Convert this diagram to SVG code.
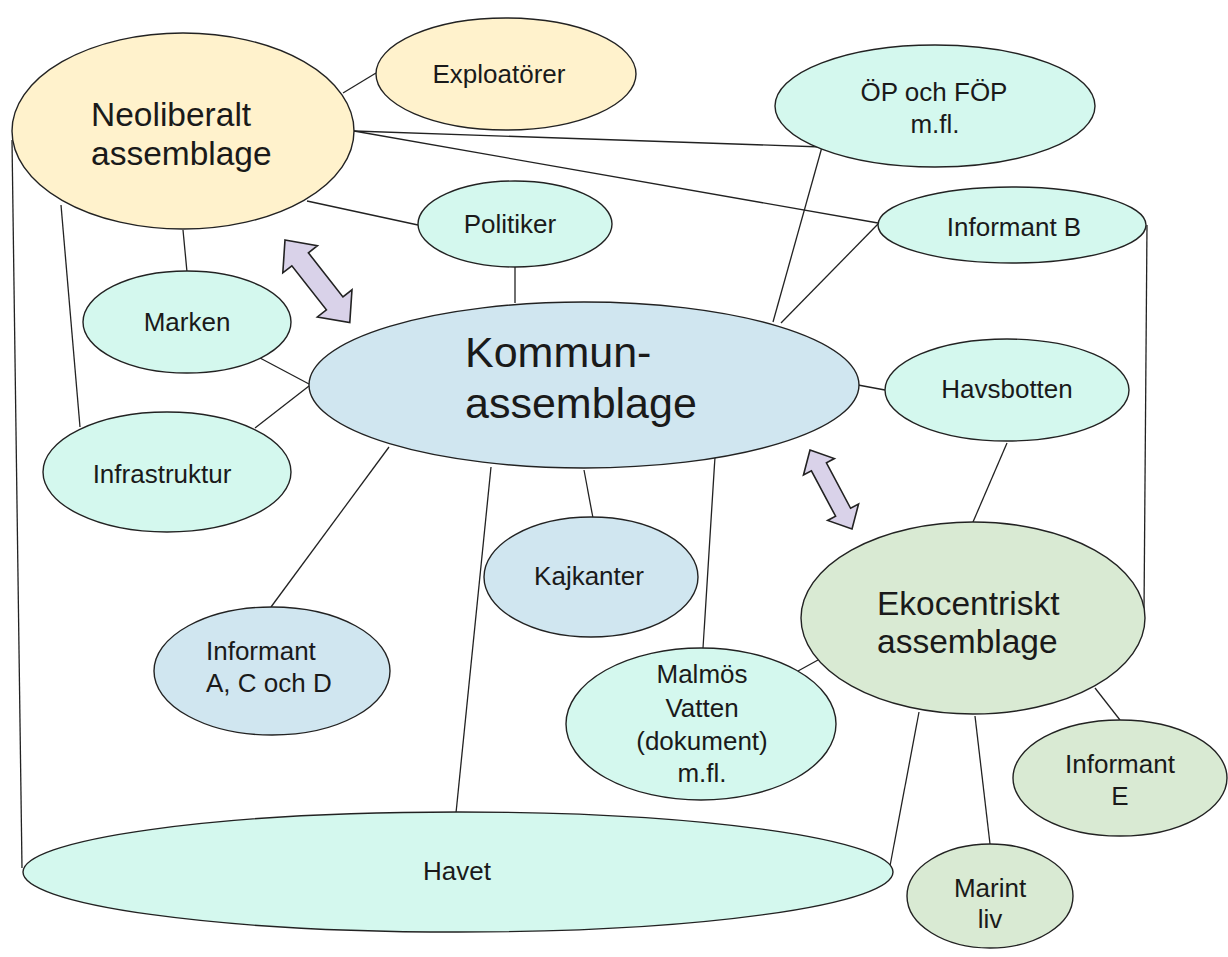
<svg xmlns="http://www.w3.org/2000/svg" width="1228" height="957" viewBox="0 0 1228 957">
<style>
  .n ellipse { stroke: #222; stroke-width: 1.4; }
  .yel { fill: #fff2cc; }
  .mint { fill: #d4f8ee; }
  .blue { fill: #d0e6f0; }
  .grn { fill: #d9ead3; }
  text { font-family: "Liberation Sans", Arial, sans-serif; fill: #1a1a1a; }
  .s { font-size: 26px; text-anchor: middle; }
  .sl { font-size: 26px; }
  .b { font-size: 33.5px; }
  .k { font-size: 43px; }
  #connectors line { stroke: #222; stroke-width: 1.3; }
  .arr { fill: #d9d2e9; stroke: #222; stroke-width: 1.6; stroke-linejoin: miter; }
</style>
<rect width="1228" height="957" fill="#ffffff"/>
<g id="connectors">
  <line x1="12" y1="140" x2="22" y2="868"/>
  <line x1="61" y1="205" x2="80" y2="427"/>
  <line x1="183" y1="230" x2="187" y2="272"/>
  <line x1="343" y1="93" x2="376" y2="73"/>
  <line x1="307" y1="201" x2="418" y2="225"/>
  <line x1="354" y1="131" x2="822" y2="147"/>
  <line x1="354" y1="131" x2="878" y2="223"/>
  <line x1="822" y1="147" x2="773" y2="322"/>
  <line x1="878" y1="224" x2="781" y2="323"/>
  <line x1="1147" y1="225" x2="1144" y2="612"/>
  <line x1="515" y1="267" x2="515" y2="303"/>
  <line x1="260" y1="358" x2="309" y2="384"/>
  <line x1="255" y1="428" x2="309" y2="386"/>
  <line x1="858" y1="385" x2="885" y2="390"/>
  <line x1="1007" y1="443" x2="973" y2="522"/>
  <line x1="389" y1="447" x2="271" y2="607"/>
  <line x1="491" y1="467" x2="456" y2="813"/>
  <line x1="584" y1="470" x2="593" y2="518"/>
  <line x1="715" y1="457" x2="703" y2="648"/>
  <line x1="798" y1="671" x2="818" y2="660"/>
  <line x1="919" y1="712" x2="890" y2="866"/>
  <line x1="975" y1="716" x2="990" y2="844"/>
  <line x1="1095" y1="688" x2="1120" y2="720"/>
</g>
<g id="arrows">
  <path class="arr" transform="translate(285,240) rotate(51.9)" d="M0,0 L24.5,-22 L24.5,-10.5 L80.5,-10.5 L80.5,-22 L105,0 L80.5,22 L80.5,10.5 L24.5,10.5 L24.5,22 Z"/>
  <path class="arr" transform="translate(810,450) rotate(62)" d="M0,0 L19,-17.5 L19,-8.5 L70.5,-8.5 L70.5,-17.5 L89.5,0 L70.5,17.5 L70.5,8.5 L19,8.5 L19,17.5 Z"/>
</g>
<g id="neoliberalt" class="n">
  <ellipse class="yel" cx="183" cy="131" rx="171" ry="98"/>
  <text class="b" x="91" y="126">Neoliberalt</text>
  <text class="b" x="91" y="165">assemblage</text>
</g>
<g id="exploatorer" class="n">
  <ellipse class="yel" cx="506" cy="74" rx="130" ry="56"/>
  <text class="s" x="499" y="83">Exploatörer</text>
</g>
<g id="op-fop" class="n">
  <ellipse class="mint" cx="935" cy="106" rx="160" ry="61"/>
  <text class="s" x="934" y="101">ÖP och FÖP</text>
  <text class="s" x="935" y="133">m.fl.</text>
</g>
<g id="informant-b" class="n">
  <ellipse class="mint" cx="1012" cy="225" rx="134" ry="38"/>
  <text class="s" x="1014" y="236">Informant B</text>
</g>
<g id="politiker" class="n">
  <ellipse class="mint" cx="515" cy="224" rx="97" ry="43"/>
  <text class="s" x="510" y="233">Politiker</text>
</g>
<g id="marken" class="n">
  <ellipse class="mint" cx="187" cy="322" rx="104" ry="51"/>
  <text class="s" x="187" y="331">Marken</text>
</g>
<g id="infrastruktur" class="n">
  <ellipse class="mint" cx="167" cy="472" rx="124" ry="60"/>
  <text class="s" x="162" y="483">Infrastruktur</text>
</g>
<g id="kommun" class="n">
  <ellipse class="blue" cx="584" cy="385" rx="275" ry="83"/>
  <text class="k" x="465" y="367">Kommun-</text>
  <text class="k" x="465" y="418">assemblage</text>
</g>
<g id="havsbotten" class="n">
  <ellipse class="mint" cx="1007" cy="390" rx="122" ry="51"/>
  <text class="s" x="1007" y="398">Havsbotten</text>
</g>
<g id="kajkanter" class="n">
  <ellipse class="blue" cx="591" cy="577" rx="107" ry="60"/>
  <text class="s" x="589" y="585">Kajkanter</text>
</g>
<g id="informant-acd" class="n">
  <ellipse class="blue" cx="272" cy="671" rx="118" ry="64"/>
  <text class="sl" x="206" y="660">Informant</text>
  <text class="sl" x="206" y="692">A, C och D</text>
</g>
<g id="malmos-vatten" class="n">
  <ellipse class="mint" cx="701" cy="724" rx="135" ry="76"/>
  <text class="s" x="702" y="683">Malmös</text>
  <text class="s" x="702" y="717">Vatten</text>
  <text class="s" x="702" y="750">(dokument)</text>
  <text class="s" x="702" y="782">m.fl.</text>
</g>
<g id="ekocentriskt" class="n">
  <ellipse class="grn" cx="973" cy="618" rx="172" ry="96"/>
  <text class="b" x="877" y="615">Ekocentriskt</text>
  <text class="b" x="877" y="653">assemblage</text>
</g>
<g id="informant-e" class="n">
  <ellipse class="grn" cx="1120" cy="778" rx="107" ry="58"/>
  <text class="s" x="1120" y="773">Informant</text>
  <text class="s" x="1120" y="805">E</text>
</g>
<g id="marint-liv" class="n">
  <ellipse class="grn" cx="990" cy="896" rx="83" ry="52"/>
  <text class="s" x="990" y="897">Marint</text>
  <text class="s" x="990" y="928">liv</text>
</g>
<g id="havet" class="n">
  <ellipse class="mint" cx="458" cy="872" rx="435" ry="60"/>
  <text class="s" x="457" y="880">Havet</text>
</g>
</svg>
